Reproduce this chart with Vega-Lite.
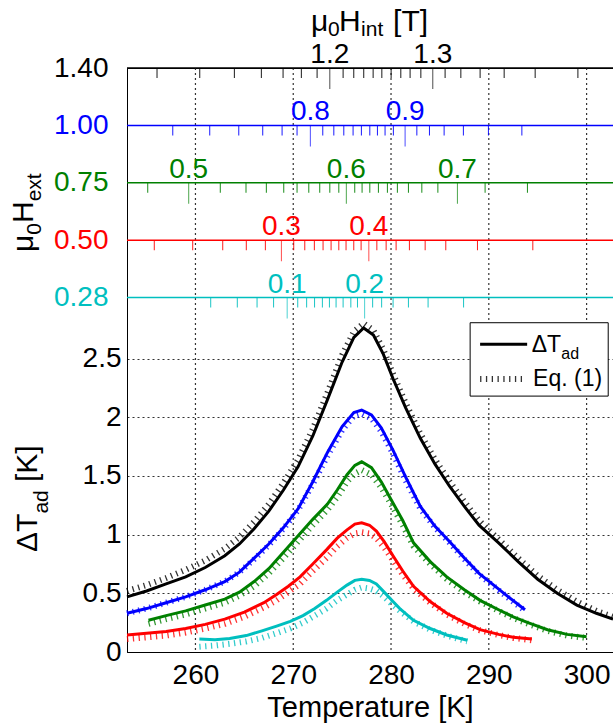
{
  "$schema": "https://vega.github.io/schema/vega-lite/v6.json",
  "width": 486,
  "height": 584,
  "autosize": {"type": "none"},
  "padding": {"left": 127, "top": 68, "right": 0, "bottom": 74},
  "background": "white",
  "config": {
    "font": "Liberation Sans",
    "view": {"stroke": "black", "strokeWidth": 1},
    "axis": {
      "domainColor": "black", "tickColor": "black", "labelColor": "black", "titleColor": "black",
      "labelFontSize": 28, "titleFontSize": 29, "titleFontWeight": "normal",
      "gridColor": "#333333", "gridDash": [2, 3], "gridOpacity": 1, "gridWidth": 1.2
    }
  },
  "datasets": {
    "hext": [{"H": "1.40"}, {"H": "1.00"}, {"H": "0.75"}, {"H": "0.50"}, {"H": "0.28"}],
    "xgrid": [{"T": 260}, {"T": 270}, {"T": 280}, {"T": 290}, {"T": 300}],
    "solid": [
      {"H":"1.40","T":253,"dT":0.47},{"H":"1.40","T":255,"dT":0.52},{"H":"1.40","T":257,"dT":0.58},{"H":"1.40","T":259,"dT":0.64},{"H":"1.40","T":261,"dT":0.72},{"H":"1.40","T":263,"dT":0.82},{"H":"1.40","T":264.5,"dT":0.92},{"H":"1.40","T":266,"dT":1.05},{"H":"1.40","T":267.5,"dT":1.2},{"H":"1.40","T":269,"dT":1.38},{"H":"1.40","T":270.5,"dT":1.58},{"H":"1.40","T":272,"dT":1.84},{"H":"1.40","T":273.5,"dT":2.15},{"H":"1.40","T":275,"dT":2.47},{"H":"1.40","T":276.2,"dT":2.68},{"H":"1.40","T":277.2,"dT":2.76},{"H":"1.40","T":278.2,"dT":2.7},{"H":"1.40","T":279.2,"dT":2.54},{"H":"1.40","T":280.2,"dT":2.33},{"H":"1.40","T":281.5,"dT":2.08},{"H":"1.40","T":283,"dT":1.82},{"H":"1.40","T":284.5,"dT":1.6},{"H":"1.40","T":286,"dT":1.41},{"H":"1.40","T":287.5,"dT":1.24},{"H":"1.40","T":289,"dT":1.08},{"H":"1.40","T":291,"dT":0.93},{"H":"1.40","T":293,"dT":0.77},{"H":"1.40","T":295,"dT":0.62},{"H":"1.40","T":297,"dT":0.5},{"H":"1.40","T":299,"dT":0.4},{"H":"1.40","T":301,"dT":0.33},{"H":"1.40","T":302.7,"dT":0.28},
      {"H":"1.00","T":253,"dT":0.33},{"H":"1.00","T":255,"dT":0.37},{"H":"1.00","T":257,"dT":0.42},{"H":"1.00","T":259,"dT":0.47},{"H":"1.00","T":261,"dT":0.53},{"H":"1.00","T":263,"dT":0.6},{"H":"1.00","T":264.5,"dT":0.68},{"H":"1.00","T":266,"dT":0.8},{"H":"1.00","T":267.5,"dT":0.92},{"H":"1.00","T":269,"dT":1.06},{"H":"1.00","T":270.5,"dT":1.22},{"H":"1.00","T":272,"dT":1.45},{"H":"1.00","T":273.5,"dT":1.7},{"H":"1.00","T":275,"dT":1.92},{"H":"1.00","T":276.2,"dT":2.04},{"H":"1.00","T":277,"dT":2.06},{"H":"1.00","T":278,"dT":2.02},{"H":"1.00","T":279,"dT":1.91},{"H":"1.00","T":280.2,"dT":1.72},{"H":"1.00","T":281.5,"dT":1.49},{"H":"1.00","T":283,"dT":1.24},{"H":"1.00","T":284.5,"dT":1.07},{"H":"1.00","T":286,"dT":0.94},{"H":"1.00","T":287.5,"dT":0.8},{"H":"1.00","T":289,"dT":0.67},{"H":"1.00","T":290.5,"dT":0.57},{"H":"1.00","T":292,"dT":0.47},{"H":"1.00","T":293.7,"dT":0.36},
      {"H":"0.75","T":255.2,"dT":0.27},{"H":"0.75","T":257,"dT":0.31},{"H":"0.75","T":259,"dT":0.35},{"H":"0.75","T":261,"dT":0.4},{"H":"0.75","T":263,"dT":0.45},{"H":"0.75","T":264.5,"dT":0.51},{"H":"0.75","T":266,"dT":0.6},{"H":"0.75","T":267.5,"dT":0.71},{"H":"0.75","T":269,"dT":0.85},{"H":"0.75","T":270.5,"dT":0.99},{"H":"0.75","T":272,"dT":1.13},{"H":"0.75","T":273.5,"dT":1.26},{"H":"0.75","T":274.5,"dT":1.38},{"H":"0.75","T":275.5,"dT":1.51},{"H":"0.75","T":276.3,"dT":1.59},{"H":"0.75","T":277,"dT":1.62},{"H":"0.75","T":278,"dT":1.57},{"H":"0.75","T":279,"dT":1.45},{"H":"0.75","T":280,"dT":1.3},{"H":"0.75","T":281.2,"dT":1.12},{"H":"0.75","T":282.3,"dT":0.93},{"H":"0.75","T":284,"dT":0.77},{"H":"0.75","T":285.7,"dT":0.64},{"H":"0.75","T":287.5,"dT":0.53},{"H":"0.75","T":289.1,"dT":0.44},{"H":"0.75","T":291,"dT":0.36},{"H":"0.75","T":292.5,"dT":0.3},{"H":"0.75","T":294,"dT":0.25},{"H":"0.75","T":296,"dT":0.19},{"H":"0.75","T":298,"dT":0.15},{"H":"0.75","T":300,"dT":0.13},
      {"H":"0.50","T":253,"dT":0.145},{"H":"0.50","T":255,"dT":0.16},{"H":"0.50","T":257,"dT":0.175},{"H":"0.50","T":259,"dT":0.2},{"H":"0.50","T":261,"dT":0.235},{"H":"0.50","T":263,"dT":0.28},{"H":"0.50","T":265,"dT":0.34},{"H":"0.50","T":267,"dT":0.42},{"H":"0.50","T":268.3,"dT":0.49},{"H":"0.50","T":269.5,"dT":0.56},{"H":"0.50","T":270.7,"dT":0.64},{"H":"0.50","T":272,"dT":0.75},{"H":"0.50","T":273.4,"dT":0.87},{"H":"0.50","T":274.5,"dT":0.97},{"H":"0.50","T":275.5,"dT":1.04},{"H":"0.50","T":276.3,"dT":1.09},{"H":"0.50","T":277,"dT":1.1},{"H":"0.50","T":277.8,"dT":1.08},{"H":"0.50","T":278.5,"dT":1.03},{"H":"0.50","T":279.3,"dT":0.94},{"H":"0.50","T":280.2,"dT":0.82},{"H":"0.50","T":281.2,"dT":0.69},{"H":"0.50","T":282.3,"dT":0.56},{"H":"0.50","T":284,"dT":0.43},{"H":"0.50","T":285.7,"dT":0.33},{"H":"0.50","T":287.5,"dT":0.25},{"H":"0.50","T":289.1,"dT":0.19},{"H":"0.50","T":291,"dT":0.15},{"H":"0.50","T":292.5,"dT":0.125},{"H":"0.50","T":294.4,"dT":0.11},
      {"H":"0.28","T":260.4,"dT":0.11},{"H":"0.28","T":262,"dT":0.105},{"H":"0.28","T":263.5,"dT":0.115},{"H":"0.28","T":265.2,"dT":0.14},{"H":"0.28","T":266.8,"dT":0.18},{"H":"0.28","T":268.3,"dT":0.22},{"H":"0.28","T":269.7,"dT":0.26},{"H":"0.28","T":271,"dT":0.31},{"H":"0.28","T":272.2,"dT":0.37},{"H":"0.28","T":273.4,"dT":0.44},{"H":"0.28","T":274.5,"dT":0.51},{"H":"0.28","T":275.5,"dT":0.57},{"H":"0.28","T":276.3,"dT":0.61},{"H":"0.28","T":277,"dT":0.62},{"H":"0.28","T":277.8,"dT":0.61},{"H":"0.28","T":278.5,"dT":0.58},{"H":"0.28","T":279.3,"dT":0.51},{"H":"0.28","T":280.2,"dT":0.43},{"H":"0.28","T":280.9,"dT":0.37},{"H":"0.28","T":282.3,"dT":0.27},{"H":"0.28","T":284,"dT":0.2},{"H":"0.28","T":285.7,"dT":0.145},{"H":"0.28","T":287.8,"dT":0.1}
    ],
    "eq": [
      {"H":"1.40","T":253,"dT":0.52},{"H":"1.40","T":255,"dT":0.57},{"H":"1.40","T":257,"dT":0.63},{"H":"1.40","T":259,"dT":0.7},{"H":"1.40","T":261,"dT":0.78},{"H":"1.40","T":263,"dT":0.88},{"H":"1.40","T":264.5,"dT":0.98},{"H":"1.40","T":266,"dT":1.11},{"H":"1.40","T":267.5,"dT":1.26},{"H":"1.40","T":269,"dT":1.44},{"H":"1.40","T":270.5,"dT":1.64},{"H":"1.40","T":272,"dT":1.9},{"H":"1.40","T":273.5,"dT":2.21},{"H":"1.40","T":275,"dT":2.53},{"H":"1.40","T":276.2,"dT":2.73},{"H":"1.40","T":277.2,"dT":2.8},{"H":"1.40","T":278.2,"dT":2.74},{"H":"1.40","T":279.2,"dT":2.58},{"H":"1.40","T":280.2,"dT":2.37},{"H":"1.40","T":281.5,"dT":2.12},{"H":"1.40","T":283,"dT":1.86},{"H":"1.40","T":284.5,"dT":1.64},{"H":"1.40","T":286,"dT":1.45},{"H":"1.40","T":287.5,"dT":1.28},{"H":"1.40","T":289,"dT":1.12},{"H":"1.40","T":291,"dT":0.96},{"H":"1.40","T":293,"dT":0.8},{"H":"1.40","T":295,"dT":0.65},{"H":"1.40","T":297,"dT":0.53},{"H":"1.40","T":299,"dT":0.43},{"H":"1.40","T":301,"dT":0.35},{"H":"1.40","T":302.7,"dT":0.3},
      {"H":"1.00","T":253,"dT":0.33},{"H":"1.00","T":255,"dT":0.37},{"H":"1.00","T":257,"dT":0.42},{"H":"1.00","T":259,"dT":0.47},{"H":"1.00","T":261,"dT":0.53},{"H":"1.00","T":263,"dT":0.6},{"H":"1.00","T":264.5,"dT":0.68},{"H":"1.00","T":266,"dT":0.79},{"H":"1.00","T":267.5,"dT":0.91},{"H":"1.00","T":269,"dT":1.05},{"H":"1.00","T":270.5,"dT":1.21},{"H":"1.00","T":272,"dT":1.43},{"H":"1.00","T":273.5,"dT":1.67},{"H":"1.00","T":275,"dT":1.89},{"H":"1.00","T":276.2,"dT":2.01},{"H":"1.00","T":277,"dT":2.03},{"H":"1.00","T":278,"dT":1.99},{"H":"1.00","T":279,"dT":1.88},{"H":"1.00","T":280.2,"dT":1.69},{"H":"1.00","T":281.5,"dT":1.46},{"H":"1.00","T":283,"dT":1.22},{"H":"1.00","T":284.5,"dT":1.06},{"H":"1.00","T":286,"dT":0.93},{"H":"1.00","T":287.5,"dT":0.79},{"H":"1.00","T":289,"dT":0.66},{"H":"1.00","T":290.5,"dT":0.56},{"H":"1.00","T":292,"dT":0.46},{"H":"1.00","T":293.7,"dT":0.35},
      {"H":"0.75","T":255.2,"dT":0.24},{"H":"0.75","T":257,"dT":0.28},{"H":"0.75","T":259,"dT":0.32},{"H":"0.75","T":261,"dT":0.37},{"H":"0.75","T":263,"dT":0.42},{"H":"0.75","T":264.5,"dT":0.48},{"H":"0.75","T":266,"dT":0.56},{"H":"0.75","T":267.5,"dT":0.67},{"H":"0.75","T":269,"dT":0.8},{"H":"0.75","T":270.5,"dT":0.94},{"H":"0.75","T":272,"dT":1.08},{"H":"0.75","T":273.5,"dT":1.21},{"H":"0.75","T":274.5,"dT":1.32},{"H":"0.75","T":275.5,"dT":1.45},{"H":"0.75","T":276.3,"dT":1.52},{"H":"0.75","T":277,"dT":1.55},{"H":"0.75","T":278,"dT":1.51},{"H":"0.75","T":279,"dT":1.4},{"H":"0.75","T":280,"dT":1.26},{"H":"0.75","T":281.2,"dT":1.08},{"H":"0.75","T":282.3,"dT":0.9},{"H":"0.75","T":284,"dT":0.75},{"H":"0.75","T":285.7,"dT":0.62},{"H":"0.75","T":287.5,"dT":0.51},{"H":"0.75","T":289.1,"dT":0.43},{"H":"0.75","T":291,"dT":0.35},{"H":"0.75","T":292.5,"dT":0.29},{"H":"0.75","T":294,"dT":0.24},{"H":"0.75","T":296,"dT":0.18},{"H":"0.75","T":298,"dT":0.14},{"H":"0.75","T":300,"dT":0.12},
      {"H":"0.50","T":253,"dT":0.11},{"H":"0.50","T":255,"dT":0.125},{"H":"0.50","T":257,"dT":0.14},{"H":"0.50","T":259,"dT":0.165},{"H":"0.50","T":261,"dT":0.2},{"H":"0.50","T":263,"dT":0.24},{"H":"0.50","T":265,"dT":0.3},{"H":"0.50","T":267,"dT":0.38},{"H":"0.50","T":268.3,"dT":0.44},{"H":"0.50","T":269.5,"dT":0.51},{"H":"0.50","T":270.7,"dT":0.58},{"H":"0.50","T":272,"dT":0.69},{"H":"0.50","T":273.4,"dT":0.8},{"H":"0.50","T":274.5,"dT":0.9},{"H":"0.50","T":275.5,"dT":0.97},{"H":"0.50","T":276.3,"dT":1.01},{"H":"0.50","T":277,"dT":1.02},{"H":"0.50","T":277.8,"dT":1.01},{"H":"0.50","T":278.5,"dT":0.97},{"H":"0.50","T":279.3,"dT":0.89},{"H":"0.50","T":280.2,"dT":0.78},{"H":"0.50","T":281.2,"dT":0.66},{"H":"0.50","T":282.3,"dT":0.54},{"H":"0.50","T":284,"dT":0.42},{"H":"0.50","T":285.7,"dT":0.32},{"H":"0.50","T":287.5,"dT":0.24},{"H":"0.50","T":289.1,"dT":0.185},{"H":"0.50","T":291,"dT":0.145},{"H":"0.50","T":292.5,"dT":0.12},{"H":"0.50","T":294.4,"dT":0.1},
      {"H":"0.28","T":260.4,"dT":0.045},{"H":"0.28","T":262,"dT":0.055},{"H":"0.28","T":263.5,"dT":0.07},{"H":"0.28","T":265.2,"dT":0.09},{"H":"0.28","T":266.8,"dT":0.12},{"H":"0.28","T":268.3,"dT":0.16},{"H":"0.28","T":269.7,"dT":0.2},{"H":"0.28","T":271,"dT":0.25},{"H":"0.28","T":272.2,"dT":0.31},{"H":"0.28","T":273.4,"dT":0.37},{"H":"0.28","T":274.5,"dT":0.44},{"H":"0.28","T":275.5,"dT":0.49},{"H":"0.28","T":276.3,"dT":0.53},{"H":"0.28","T":277,"dT":0.55},{"H":"0.28","T":277.8,"dT":0.54},{"H":"0.28","T":278.5,"dT":0.52},{"H":"0.28","T":279.3,"dT":0.47},{"H":"0.28","T":280.2,"dT":0.4},{"H":"0.28","T":280.9,"dT":0.35},{"H":"0.28","T":282.3,"dT":0.26},{"H":"0.28","T":284,"dT":0.19},{"H":"0.28","T":285.7,"dT":0.14},{"H":"0.28","T":287.8,"dT":0.09}
    ],
    "ticks": [
      {"H":"1.40","v":1.13,"T":256.07},{"H":"1.40","v":1.14,"T":260.44},{"H":"1.40","v":1.15,"T":263.98},{"H":"1.40","v":1.16,"T":266.74},{"H":"1.40","v":1.17,"T":268.96},{"H":"1.40","v":1.18,"T":270.83},{"H":"1.40","v":1.19,"T":272.44},{"H":"1.40","v":1.2,"T":273.74},{"H":"1.40","v":1.21,"T":275.1},{"H":"1.40","v":1.22,"T":276.19},{"H":"1.40","v":1.23,"T":277.21},{"H":"1.40","v":1.24,"T":278.17},{"H":"1.40","v":1.25,"T":279.06},{"H":"1.40","v":1.26,"T":280.01},{"H":"1.40","v":1.27,"T":281.0},{"H":"1.40","v":1.28,"T":281.95},{"H":"1.40","v":1.29,"T":283.05},{"H":"1.40","v":1.3,"T":284.27},{"H":"1.40","v":1.31,"T":285.53},{"H":"1.40","v":1.32,"T":287.14},{"H":"1.40","v":1.33,"T":289.11},{"H":"1.40","v":1.34,"T":291.57},{"H":"1.40","v":1.35,"T":294.74},{"H":"1.40","v":1.36,"T":299.11},
      {"H":"1.00","v":0.74,"T":257.68},{"H":"1.00","v":0.75,"T":261.46},{"H":"1.00","v":0.76,"T":264.43},{"H":"1.00","v":0.77,"T":266.88},{"H":"1.00","v":0.78,"T":268.86},{"H":"1.00","v":0.79,"T":270.39},{"H":"1.00","v":0.8,"T":271.75},{"H":"1.00","v":0.81,"T":273.02},{"H":"1.00","v":0.82,"T":274.15},{"H":"1.00","v":0.83,"T":275.17},{"H":"1.00","v":0.84,"T":276.12},{"H":"1.00","v":0.85,"T":276.97},{"H":"1.00","v":0.86,"T":277.83},{"H":"1.00","v":0.87,"T":278.61},{"H":"1.00","v":0.88,"T":279.39},{"H":"1.00","v":0.89,"T":280.24},{"H":"1.00","v":0.9,"T":281.44},{"H":"1.00","v":0.91,"T":282.64},{"H":"1.00","v":0.92,"T":283.93},{"H":"1.00","v":0.93,"T":285.43},{"H":"1.00","v":0.94,"T":287.4},{"H":"1.00","v":0.95,"T":289.96},{"H":"1.00","v":0.96,"T":293.38},
      {"H":"0.75","v":0.49,"T":255.12},{"H":"0.75","v":0.5,"T":259.31},{"H":"0.75","v":0.51,"T":262.54},{"H":"0.75","v":0.52,"T":265.17},{"H":"0.75","v":0.53,"T":267.25},{"H":"0.75","v":0.54,"T":269.03},{"H":"0.75","v":0.55,"T":270.39},{"H":"0.75","v":0.56,"T":271.59},{"H":"0.75","v":0.57,"T":272.71},{"H":"0.75","v":0.58,"T":273.74},{"H":"0.75","v":0.59,"T":274.66},{"H":"0.75","v":0.6,"T":275.43},{"H":"0.75","v":0.61,"T":276.29},{"H":"0.75","v":0.62,"T":277.04},{"H":"0.75","v":0.63,"T":277.83},{"H":"0.75","v":0.64,"T":278.71},{"H":"0.75","v":0.65,"T":279.63},{"H":"0.75","v":0.66,"T":280.65},{"H":"0.75","v":0.67,"T":281.78},{"H":"0.75","v":0.68,"T":283.15},{"H":"0.75","v":0.69,"T":284.79},{"H":"0.75","v":0.7,"T":286.79},{"H":"0.75","v":0.71,"T":289.62},{"H":"0.75","v":0.72,"T":293.95},
      {"H":"0.50","v":0.25,"T":255.79},{"H":"0.50","v":0.26,"T":259.72},{"H":"0.50","v":0.27,"T":262.79},{"H":"0.50","v":0.28,"T":265.2},{"H":"0.50","v":0.29,"T":267.15},{"H":"0.50","v":0.3,"T":268.79},{"H":"0.50","v":0.31,"T":270.05},{"H":"0.50","v":0.32,"T":271.18},{"H":"0.50","v":0.33,"T":272.16},{"H":"0.50","v":0.34,"T":273.05},{"H":"0.50","v":0.35,"T":273.87},{"H":"0.50","v":0.36,"T":274.66},{"H":"0.50","v":0.37,"T":275.4},{"H":"0.50","v":0.38,"T":276.19},{"H":"0.50","v":0.39,"T":276.94},{"H":"0.50","v":0.4,"T":277.73},{"H":"0.50","v":0.41,"T":278.55},{"H":"0.50","v":0.42,"T":279.5},{"H":"0.50","v":0.43,"T":280.52},{"H":"0.50","v":0.44,"T":281.88},{"H":"0.50","v":0.45,"T":283.49},{"H":"0.50","v":0.46,"T":285.6},{"H":"0.50","v":0.47,"T":288.84},{"H":"0.50","v":0.48,"T":294.5},
      {"H":"0.28","v":0.06,"T":261.56},{"H":"0.28","v":0.07,"T":264.28},{"H":"0.28","v":0.08,"T":266.3},{"H":"0.28","v":0.09,"T":267.99},{"H":"0.28","v":0.1,"T":269.38},{"H":"0.28","v":0.11,"T":270.46},{"H":"0.28","v":0.12,"T":271.37},{"H":"0.28","v":0.13,"T":272.18},{"H":"0.28","v":0.14,"T":272.98},{"H":"0.28","v":0.15,"T":273.7},{"H":"0.28","v":0.16,"T":274.38},{"H":"0.28","v":0.17,"T":275.1},{"H":"0.28","v":0.18,"T":275.89},{"H":"0.28","v":0.19,"T":276.57},{"H":"0.28","v":0.2,"T":277.3},{"H":"0.28","v":0.21,"T":278.12},{"H":"0.28","v":0.22,"T":279.04},{"H":"0.28","v":0.23,"T":280.21},{"H":"0.28","v":0.24,"T":281.78},{"H":"0.28","v":0.25,"T":283.79},{"H":"0.28","v":0.26,"T":287.42}
    ]
  },
  "resolve": {"scale": {"y": "independent"}, "axis": {"x": "independent"}},
  "layer": [
    {
      "layer": [
        {
          "data": {"name": "xgrid"},
          "mark": {"type": "rule", "color": "#333333", "strokeDash": [2, 3], "strokeWidth": 1.2},
          "encoding": {
            "x": {"field": "T", "type": "quantitative", "scale": {"domain": [253, 302.7], "nice": false, "zero": false},
                  "axis": {"orient": "bottom", "values": [260, 270, 280, 290, 300], "format": "~g", "title": "Temperature [K]", "ticks": false, "labelPadding": 9, "titlePadding": 4, "grid": false}}
          }
        },
        {
          "data": {"name": "solid"},
          "mark": {"type": "line", "strokeWidth": 3},
          "encoding": {
            "x": {"field": "T", "type": "quantitative"},
            "y": {"field": "dT", "type": "quantitative", "scale": {"domain": [0, 4.975], "nice": false, "zero": false},
                  "axis": {"values": [0, 0.5, 1, 1.5, 2, 2.5], "format": "~g", "title": null, "ticks": false, "labelPadding": 6, "grid": true}},
            "color": {"field": "H", "type": "nominal", "scale": {"domain": ["1.40", "1.00", "0.75", "0.50", "0.28"], "range": ["#000000", "#0000ff", "#008000", "#ff0000", "#00bfbf"]}, "legend": null}
          }
        },
        {
          "data": {"name": "eq"},
          "mark": {"type": "line", "strokeWidth": 6, "strokeDash": [1.3, 4.5], "strokeCap": "butt", "opacity": 0.8},
          "encoding": {
            "x": {"field": "T", "type": "quantitative"},
            "y": {"field": "dT", "type": "quantitative"},
            "color": {"field": "H", "type": "nominal", "legend": null}
          }
        },
        {
          "data": {"values": [{}]},
          "mark": {"type": "rect", "fill": "white", "stroke": "black", "strokeWidth": 1},
          "encoding": {
            "x": {"datum": 288.09, "type": "quantitative"}, "x2": {"datum": 302.21},
            "y": {"datum": 2.805, "type": "quantitative"}, "y2": {"datum": 2.18}
          }
        },
        {
          "data": {"values": [{}]},
          "mark": {"type": "rule", "strokeWidth": 3, "color": "black"},
          "encoding": {
            "x": {"datum": 289.11, "type": "quantitative"}, "x2": {"datum": 293.92},
            "y": {"datum": 2.621, "type": "quantitative"}
          }
        },
        {
          "data": {"values": [{}]},
          "mark": {"type": "rule", "strokeWidth": 6, "strokeDash": [1.3, 4.5], "strokeCap": "butt", "color": "black", "opacity": 0.8},
          "encoding": {
            "x": {"datum": 289.11, "type": "quantitative"}, "x2": {"datum": 293.8},
            "y": {"datum": 2.325, "type": "quantitative"}
          }
        },
        {
          "data": {"values": [{}]},
          "mark": {"type": "text", "text": "ΔT", "fontSize": 23, "align": "left", "baseline": "alphabetic", "color": "black"},
          "encoding": {"x": {"datum": 294.39, "type": "quantitative"}, "y": {"datum": 2.555, "type": "quantitative"}}
        },
        {
          "data": {"values": [{}]},
          "mark": {"type": "text", "text": "ad", "fontSize": 16, "align": "left", "baseline": "alphabetic", "color": "black"},
          "encoding": {"x": {"datum": 297.41, "type": "quantitative"}, "y": {"datum": 2.496, "type": "quantitative"}}
        },
        {
          "data": {"values": [{}]},
          "mark": {"type": "text", "text": "Eq. (1)", "fontSize": 23, "align": "left", "baseline": "alphabetic", "color": "black"},
          "encoding": {"x": {"datum": 294.53, "type": "quantitative"}, "y": {"datum": 2.266, "type": "quantitative"}}
        },
        {
          "data": {"values": [{}]},
          "mark": {"type": "text", "text": "μ", "fontSize": 30, "align": "left", "baseline": "alphabetic", "color": "black"},
          "encoding": {"x": {"datum": 271.82, "type": "quantitative"}, "y": {"datum": 5.29, "type": "quantitative"}}
        },
        {
          "data": {"values": [{}]},
          "mark": {"type": "text", "text": "0", "fontSize": 21, "align": "left", "baseline": "alphabetic", "color": "black"},
          "encoding": {"x": {"datum": 273.56, "type": "quantitative"}, "y": {"datum": 5.25, "type": "quantitative"}}
        },
        {
          "data": {"values": [{}]},
          "mark": {"type": "text", "text": "H", "fontSize": 30, "align": "left", "baseline": "alphabetic", "color": "black"},
          "encoding": {"x": {"datum": 274.69, "type": "quantitative"}, "y": {"datum": 5.29, "type": "quantitative"}}
        },
        {
          "data": {"values": [{}]},
          "mark": {"type": "text", "text": "int", "fontSize": 21, "align": "left", "baseline": "alphabetic", "color": "black"},
          "encoding": {"x": {"datum": 276.94, "type": "quantitative"}, "y": {"datum": 5.25, "type": "quantitative"}}
        },
        {
          "data": {"values": [{}]},
          "mark": {"type": "text", "text": "[T]", "fontSize": 30, "align": "left", "baseline": "alphabetic", "color": "black"},
          "encoding": {"x": {"datum": 280.21, "type": "quantitative"}, "y": {"datum": 5.29, "type": "quantitative"}}
        },
        {
          "data": {"values": [{}]},
          "mark": {"type": "text", "text": "ΔT", "fontSize": 30, "align": "left", "baseline": "alphabetic", "angle": 270, "dy": -90, "color": "black"},
          "encoding": {"x": {"datum": 253, "type": "quantitative"}, "y": {"datum": 0.852, "type": "quantitative"}}
        },
        {
          "data": {"values": [{}]},
          "mark": {"type": "text", "text": "ad", "fontSize": 21, "align": "left", "baseline": "alphabetic", "angle": 270, "dy": -79, "color": "black"},
          "encoding": {"x": {"datum": 253, "type": "quantitative"}, "y": {"datum": 1.179, "type": "quantitative"}}
        },
        {
          "data": {"values": [{}]},
          "mark": {"type": "text", "text": "[K]", "fontSize": 30, "align": "left", "baseline": "alphabetic", "angle": 270, "dy": -90, "color": "black"},
          "encoding": {"x": {"datum": 253, "type": "quantitative"}, "y": {"datum": 1.448, "type": "quantitative"}}
        },
        {
          "data": {"values": [{}]},
          "mark": {"type": "text", "text": "μ", "fontSize": 30, "align": "left", "baseline": "alphabetic", "angle": 270, "dy": -94, "color": "black"},
          "encoding": {"x": {"datum": 253, "type": "quantitative"}, "y": {"datum": 3.407, "type": "quantitative"}}
        },
        {
          "data": {"values": [{}]},
          "mark": {"type": "text", "text": "0", "fontSize": 21, "align": "left", "baseline": "alphabetic", "angle": 270, "dy": -86, "color": "black"},
          "encoding": {"x": {"datum": 253, "type": "quantitative"}, "y": {"datum": 3.554, "type": "quantitative"}}
        },
        {
          "data": {"values": [{}]},
          "mark": {"type": "text", "text": "H", "fontSize": 30, "align": "left", "baseline": "alphabetic", "angle": 270, "dy": -94, "color": "black"},
          "encoding": {"x": {"datum": 253, "type": "quantitative"}, "y": {"datum": 3.654, "type": "quantitative"}}
        },
        {
          "data": {"values": [{}]},
          "mark": {"type": "text", "text": "ext", "fontSize": 21, "align": "left", "baseline": "alphabetic", "angle": 270, "dy": -86, "color": "black"},
          "encoding": {"x": {"datum": 253, "type": "quantitative"}, "y": {"datum": 3.839, "type": "quantitative"}}
        }
      ]
    },
    {
      "layer": [
        {
          "data": {"name": "hext"},
          "mark": {"type": "rule", "strokeWidth": 1.5},
          "encoding": {
            "y": {"field": "H", "type": "ordinal",
                  "scale": {"type": "point", "domain": ["1.40", "1.00", "0.75", "0.50", "0.28"], "range": [0, 229.5], "padding": 0},
                  "axis": {"orient": "left", "title": null, "ticks": false, "domain": false, "grid": false, "labelPadding": 19, "labelFontSize": 28,
                           "labelColor": {"condition": [
                             {"test": "datum.value == '1.00'", "value": "#0000ff"},
                             {"test": "datum.value == '0.75'", "value": "#008000"},
                             {"test": "datum.value == '0.50'", "value": "#ff0000"},
                             {"test": "datum.value == '0.28'", "value": "#00bfbf"}
                           ], "value": "#000000"}}},
            "color": {"field": "H", "type": "nominal", "legend": null}
          }
        },
        {
          "data": {"name": "ticks"},
          "transform": [{"filter": "abs(datum.v * 10 - round(datum.v * 10)) > 0.001"}],
          "mark": {"type": "tick", "orient": "vertical", "size": 10, "thickness": 1, "yOffset": 5, "opacity": 0.9},
          "encoding": {
            "x": {"field": "T", "type": "quantitative", "axis": {"orient": "bottom", "grid": false, "labels": false, "ticks": false, "domain": false, "title": null}},
            "y": {"field": "H", "type": "ordinal"},
            "color": {"field": "H", "type": "nominal", "legend": null}
          }
        },
        {
          "data": {"name": "ticks"},
          "transform": [{"filter": "abs(datum.v * 10 - round(datum.v * 10)) <= 0.001"}],
          "mark": {"type": "tick", "orient": "vertical", "size": 21, "thickness": 1, "yOffset": 10.5},
          "encoding": {
            "x": {"field": "T", "type": "quantitative", "axis": {"orient": "bottom", "grid": false, "labels": false, "ticks": false, "domain": false, "title": null}},
            "y": {"field": "H", "type": "ordinal"},
            "color": {"field": "H", "type": "nominal", "legend": null}
          }
        },
        {
          "data": {"name": "ticks"},
          "transform": [{"filter": "abs(datum.v * 10 - round(datum.v * 10)) <= 0.001"}],
          "mark": {"type": "text", "fontSize": 28, "align": "center", "baseline": "alphabetic", "dy": -5},
          "encoding": {
            "x": {"field": "T", "type": "quantitative", "axis": {"orient": "bottom", "grid": false, "labels": false, "ticks": false, "domain": false, "title": null}},
            "y": {"field": "H", "type": "ordinal"},
            "text": {"field": "v", "type": "quantitative", "format": ".1f"},
            "color": {"field": "H", "type": "nominal", "legend": null}
          }
        }
      ]
    }
  ]
}
